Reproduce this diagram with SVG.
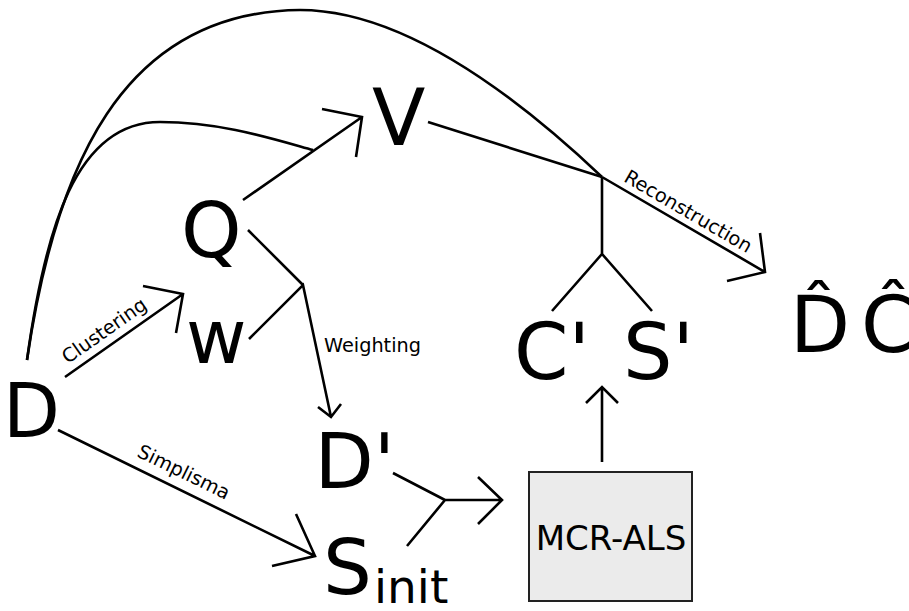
<svg xmlns="http://www.w3.org/2000/svg" width="909" height="611" viewBox="0 0 909 611">
<style>
.c{fill:none;stroke:#000;stroke-width:2.6;stroke-linecap:butt;stroke-linejoin:miter}
.big{font-family:"DejaVu Sans","Liberation Sans",sans-serif;fill:#000}
.lbl{font-family:"DejaVu Sans","Liberation Sans",sans-serif;font-size:19.3px;fill:#000}
</style>
<rect width="909" height="611" fill="#fff"/>
<g id="connectors">
<path class="c" d="M27,360 C55,170 120,12 300,10 C400,10 510,90 602,177"/>
<path class="c" d="M27,360 C45,230 75,122 160,122 C220,122 270,138 313,150"/>
<path class="c" d="M243,200 L362,117 M322,109 L362,117 L356,157"/>
<path class="c" d="M428,122 L602,177"/>
<path class="c" d="M602,177 L602,254 M552,311 L602,254 L652,311"/>
<path class="c" d="M602,177 L765,272 M760,233 L765,272 L727,281"/>
<path class="c" d="M65,377 L183,294 M143,286 L183,294 L176,333"/>
<path class="c" d="M248,230 L303,285 M249,339 L303,285 L331,417 M318,407 L331,417 L341,404"/>
<path class="c" d="M58,430 L315,556 M296,514 L315,556 L272,566"/>
<path class="c" d="M393,473 L445,500 M407,546 L445,500 L502,500 M478,477 L502,500 L478,524"/>
<path class="c" d="M602,462 L602,387 M586,403 L602,387 L618,403"/>
<text class="lbl" x="685" y="217" text-anchor="middle" transform="rotate(30.2 685 217)">Reconstruction</text>
<text class="lbl" x="108" y="336" text-anchor="middle" transform="rotate(-35.1 108 336)">Clustering</text>
<text class="lbl" x="181" y="478" text-anchor="middle" transform="rotate(26.1 181 478)">Simplisma</text>
<text class="lbl" x="324" y="352">Weighting</text>
</g>
<g id="node-D"><text class="big" x="3" y="437" font-size="74">D</text></g>
<g id="node-Q"><text class="big" x="181" y="257" font-size="77">Q</text></g>
<g id="node-V"><text class="big" x="372" y="145" font-size="78">V</text></g>
<g id="node-W"><text class="big" x="186" y="363" font-size="74">w</text></g>
<g id="node-Dprime"><text class="big" x="314.5" y="488" font-size="77">D'</text></g>
<g id="node-Sinit"><text class="big" x="323" y="594" font-size="77">S</text><text class="big" x="374" y="603" font-size="47">init</text></g>
<g id="node-CS"><text class="big" x="514" y="379" font-size="78">C'</text><text class="big" x="623" y="379" font-size="78">S'</text></g>
<g id="node-DC"><text class="big" x="790" y="352" font-size="78">D&#x302;</text><text class="big" x="861" y="352" font-size="78">&#x108;</text></g>
<g id="node-MCR"><rect x="529" y="472" width="163" height="129" fill="#ebebeb" stroke="#222" stroke-width="2"/><text class="big" x="611" y="550" font-size="34" text-anchor="middle">MCR-ALS</text></g>
</svg>
